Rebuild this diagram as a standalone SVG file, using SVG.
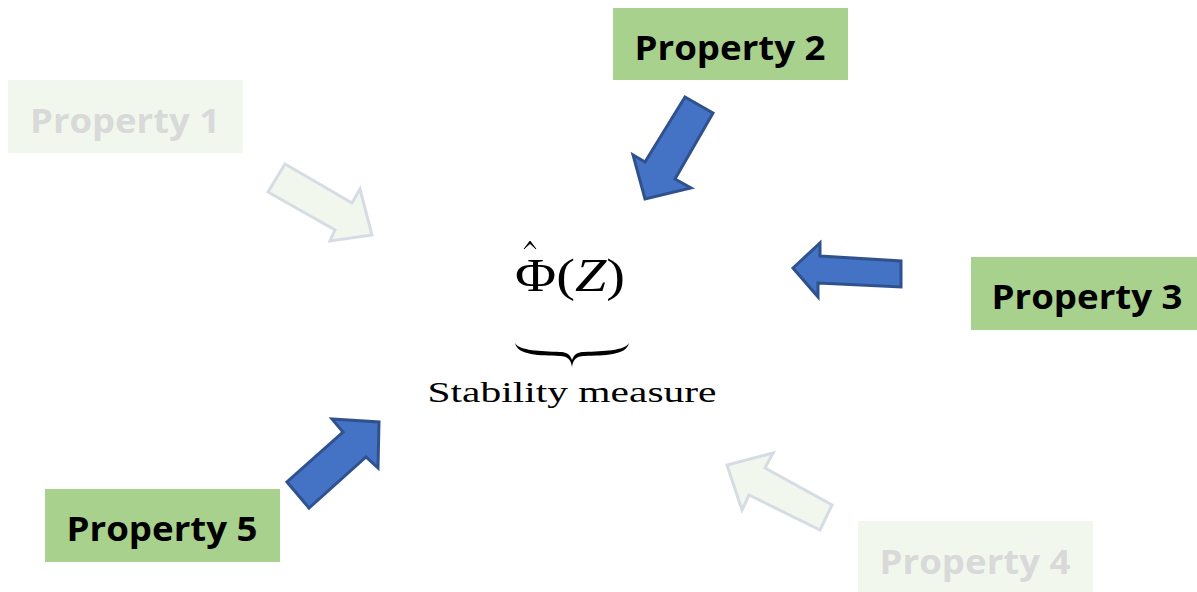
<svg xmlns="http://www.w3.org/2000/svg" width="1197" height="592" viewBox="0 0 1197 592">
<style>
.box{fill:#a9d18e}
.fbox{fill:#f2f7ee}
.lbl{font-family:"Open Sans","Liberation Sans",sans-serif;font-weight:bold;font-size:34px;fill:#000}
.flbl{font-family:"Open Sans","Liberation Sans",sans-serif;font-weight:bold;font-size:34px;fill:#d9d9d9}
.arr{fill:#4472c4;stroke:#2f528f;stroke-width:3;stroke-linejoin:miter}
.farr{fill:#f2f7ee;stroke:#d6dce5;stroke-width:3;stroke-linejoin:miter}
.math{font-family:"Liberation Serif","DejaVu Serif",serif;fill:#000}
</style>
<rect width="1197" height="592" fill="#fff"/>
<g id="connectors">
<polygon class="farr" points="285,164 352,203 360,189 372,235 330,241 335,230 268,192"/>
<polygon class="arr" points="685,97 713,113 675,179 691,188 645,199 633,155 645,162"/>
<polygon class="arr" points="901,261 901,287 818,283 818,297 793,268 820,243 820,256"/>
<polygon class="farr" points="832,505 820,530 749,495 742,510 727,465 773,453 765,468"/>
<polygon class="arr" points="287,482 309,508 366,457 378,468 379,422 332,419 343,432"/>
</g>
<g id="property1">
<rect class="fbox" x="8" y="80" width="235" height="73"/>
<text class="flbl" x="125" y="133" text-anchor="middle" textLength="190" lengthAdjust="spacingAndGlyphs">Property 1</text>
</g>
<g id="property2">
<rect class="box" x="613" y="8" width="235" height="72"/>
<text class="lbl" x="730" y="60" text-anchor="middle" textLength="191" lengthAdjust="spacingAndGlyphs">Property 2</text>
</g>
<g id="property3">
<rect class="box" x="971" y="257" width="226" height="73"/>
<text class="lbl" x="1087" y="309" text-anchor="middle" textLength="191" lengthAdjust="spacingAndGlyphs">Property 3</text>
</g>
<g id="property4">
<rect class="fbox" x="858" y="521" width="235" height="71"/>
<text class="flbl" x="975" y="574" text-anchor="middle" textLength="191" lengthAdjust="spacingAndGlyphs">Property 4</text>
</g>
<g id="property5">
<rect class="box" x="45" y="489" width="235" height="73"/>
<text class="lbl" x="162" y="541" text-anchor="middle" textLength="191" lengthAdjust="spacingAndGlyphs">Property 5</text>
</g>
<g id="measure">
<text class="math" x="570" y="291" text-anchor="middle" font-size="46" textLength="110" lengthAdjust="spacingAndGlyphs">Φ(<tspan font-style="italic">Z</tspan>)</text>
<path d="M524,249 L530,241 L536,249 L530,243.5 Z" fill="#000" stroke="#000" stroke-width="0.8"/>
<path d="M515,343 C518,356 540,355 560,356 C568,356 571,360 572,367 C573,360 576,356 584,356 C604,355 626,356 629,343 C624,351 604,351 584,352 C578,352 574,354 572,360 C570,354 566,352 560,352 C540,351 520,351 515,343 Z" fill="#000"/>
<text class="math" x="572" y="402" text-anchor="middle" font-size="30" textLength="289" lengthAdjust="spacingAndGlyphs">Stability measure</text>
</g>
</svg>
